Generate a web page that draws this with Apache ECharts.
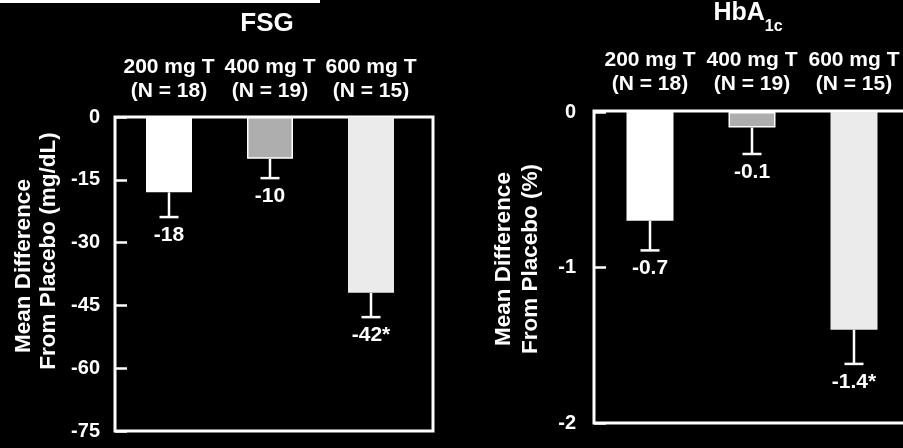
<!DOCTYPE html>
<html><head><meta charset="utf-8">
<script src="https://cdn.jsdelivr.net/npm/echarts@6/dist/echarts.min.js"></script>
<style>html,body{margin:0;padding:0;background:#000}#c{width:903px;height:448px}</style>
</head><body><div id="c"></div>
<script>
// ---- data ----
const categories = ['200 mg T\n(N = 18)', '400 mg T\n(N = 19)', '600 mg T\n(N = 15)'];
const fsgValues = [-18, -10, -42];
const fsgErrorLow = [-23.9, -14.6, -47.8];
const fsgLabels = ['-18', '-10', '-42*'];
const hbValues = [-0.7, -0.1, -1.4];
const hbErrorLow = [-0.89, -0.27, -1.62];
const hbLabels = ['-0.7', '-0.1', '-1.4*'];
const fsgAxis = { min: -75, max: 0, interval: 15 };
const hbAxis = { min: -2, max: 0, interval: 1 };
const panelTitles = ['FSG', '{m|HbA}{s|1c}'];
const yTitlesFsg = ['Mean Difference', 'From Placebo (mg/dL)'];
const yTitlesHb = ['Mean Difference', 'From Placebo (%)'];
const barColors = ['#ffffff', '#aeaeae', '#ebebeb'];

// ---- chart ----
const FONT = '"Liberation Sans", Arial, sans-serif';
const chart = echarts.init(document.getElementById('c'), null, { renderer: 'canvas' });

function frameGrid(box) {
  return Object.assign({ show: true, borderColor: '#fff', borderWidth: 3, backgroundColor: 'transparent', containLabel: false, outerBoundsMode: 'none' }, box);
}
function barGrid(box) {
  return Object.assign({ show: false, containLabel: false, outerBoundsMode: 'none' }, box);
}

function errSeries(gi, vals, lows, labels) {
  return {
    type: 'custom', xAxisIndex: gi, yAxisIndex: gi, z: 5,
    encode: { x: 0, y: 1 },
    data: vals.map((v, i) => [i, v, lows[i]]),
    renderItem(params, api) {
      const i = api.value(0);
      const top = api.coord([i, api.value(1)]);
      const bot = api.coord([i, api.value(2)]);
      const hw = 9.5;
      return {
        type: 'group', children: [
          { type: 'line', shape: { x1: top[0], y1: top[1], x2: bot[0], y2: bot[1] }, style: { stroke: '#fff', lineWidth: 2.5 } },
          { type: 'line', shape: { x1: bot[0] - hw, y1: bot[1], x2: bot[0] + hw, y2: bot[1] }, style: { stroke: '#fff', lineWidth: 2.5 } },
          { type: 'text', x: bot[0], y: bot[1] + 18, style: { text: labels[params.dataIndex], fill: '#fff', fontSize: 21, fontWeight: 'bold', fontFamily: FONT, align: 'center', verticalAlign: 'middle', textAlign: 'center', textVerticalAlign: 'middle' } }
        ]
      };
    }
  };
}

function barSeries(gi, vals, w) {
  return {
    type: 'bar', xAxisIndex: gi, yAxisIndex: gi, barWidth: w, z: 4,
    data: vals.map((v, i) => ({ value: v, itemStyle: { color: barColors[i], borderColor: '#fff', borderWidth: i === 1 ? 1.5 : 0 } }))
  };
}

const catX = (margin) => ({
  type: 'category', position: 'top', data: categories,
  axisLine: { show: false }, axisTick: { show: false }, splitLine: { show: false },
  axisLabel: { color: '#fff', fontSize: 21, fontWeight: 'bold', fontFamily: FONT, lineHeight: 24, margin: margin, interval: 0 }
});
const valY = (ax, offset, margin) => ({
  type: 'value', min: ax.min, max: ax.max, interval: ax.interval, offset: offset,
  axisLine: { show: false }, splitLine: { show: false },
  axisTick: { show: true, inside: true, length: 12, lineStyle: { color: '#fff', width: 2.5 } },
  axisLabel: { color: '#fff', fontSize: 20, fontWeight: 'bold', fontFamily: FONT, margin: margin }
});
const hiddenX = { type: 'value', show: false, min: 0, max: 1 };
const hiddenY = { type: 'value', show: false, min: 0, max: 1 };

function vText(x, y, text) {
  return { type: 'text', x: x, y: y, rotation: Math.PI / 2, silent: true,
    style: { text: text, fill: '#fff', fontSize: 22.5, fontWeight: 'bold', fontFamily: FONT, align: 'center', verticalAlign: 'middle', textAlign: 'center', textVerticalAlign: 'middle' } };
}

const option = {
  backgroundColor: '#000',
  animation: false,
  grid: [
    barGrid({ left: 118.5, top: 117, width: 303, height: 314 }),
    barGrid({ left: 599, top: 112, width: 306, height: 311 }),
    frameGrid({ left: 115, top: 117, width: 318, height: 314 }),
    frameGrid({ left: 594, top: 111, right: -40, height: 312 })
  ],
  xAxis: [
    Object.assign(catX(14), { gridIndex: 0 }),
    Object.assign(catX(16), { gridIndex: 1 }),
    Object.assign({}, hiddenX, { gridIndex: 2 }),
    Object.assign({}, hiddenX, { gridIndex: 3 })
  ],
  yAxis: [
    Object.assign(valY(fsgAxis, 3.5, 15), { gridIndex: 0 }),
    Object.assign(valY(hbAxis, 5, 18), { gridIndex: 1 }),
    Object.assign({}, hiddenY, { gridIndex: 2 }),
    Object.assign({}, hiddenY, { gridIndex: 3 })
  ],
  series: [
    barSeries(0, fsgValues, 46),
    barSeries(1, hbValues, 47),
    errSeries(0, fsgValues, fsgErrorLow, fsgLabels),
    errSeries(1, hbValues, hbErrorLow, hbLabels)
  ],
  graphic: [
    { type: 'rect', shape: { x: 0, y: 0, width: 320, height: 3 }, style: { fill: '#fff' }, silent: true },
    { type: 'text', x: 267, y: 24, silent: true,
      style: { text: panelTitles[0], fill: '#fff', fontSize: 26, fontWeight: 'bold', fontFamily: FONT, align: 'center', verticalAlign: 'middle', textAlign: 'center', textVerticalAlign: 'middle' } },
    { type: 'text', x: 748, y: 1, silent: true,
      style: { text: panelTitles[1], fill: '#fff', align: 'center', verticalAlign: 'top', textAlign: 'center', textVerticalAlign: 'top',
        rich: {
          m: { fontSize: 25, fontWeight: 'bold', fontFamily: FONT, fill: '#fff', color: '#fff', lineHeight: 34, verticalAlign: 'top' },
          s: { fontSize: 16, fontWeight: 'bold', fontFamily: FONT, fill: '#fff', color: '#fff', lineHeight: 16, verticalAlign: 'bottom' }
        } } },
    vText(24, 266, yTitlesFsg[0]),
    vText(49, 251, yTitlesFsg[1]),
    vText(504, 259, yTitlesHb[0]),
    vText(531, 259, yTitlesHb[1])
  ]
};
chart.setOption(option);
</script>
</body></html>
